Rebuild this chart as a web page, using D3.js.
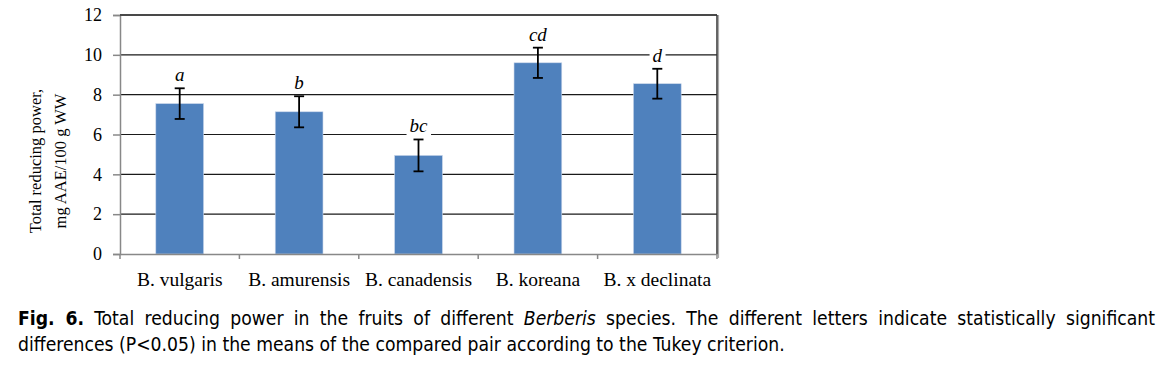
<!DOCTYPE html>
<html>
<head>
<meta charset="utf-8">
<script src="https://cdn.jsdelivr.net/npm/d3@7.9.0/dist/d3.min.js"></script>
<style>
  body { margin: 0; background: #fff; }
  svg { display: block; }
</style>
</head>
<body>
<div id="chart"></div>
<script>
// --- Data ---
const species = ["B. vulgaris", "B. amurensis", "B. canadensis", "B. koreana", "B. x declinata"];
const means = [7.55, 7.14, 4.95, 9.6, 8.55];
const errors = [0.77, 0.78, 0.8, 0.76, 0.75];
const letters = ["a", "b", "bc", "cd", "d"];
const yTicks = [0, 2, 4, 6, 8, 10, 12];

const W = 1171, H = 368;
const PL = 120, PR = 717, PT = 15, PB = 254;
const BAR_COLOR = "#4F81BD";
const SERIF = "'Liberation Serif', 'Times New Roman', serif";

const svg = d3.select("#chart").append("svg").attr("width", W).attr("height", H);

const x = d3.scaleBand().domain(species).range([PL, PR]).paddingInner(0.6).paddingOuter(0.3);
const y = d3.scaleLinear().domain([0, 12]).range([PB, PT]);

// gridlines
svg.append("g")
  .selectAll("line")
  .data(yTicks.filter(d => d > 0))
  .join("line")
  .attr("x1", PL).attr("x2", PR)
  .attr("y1", d => y(d)).attr("y2", d => y(d))
  .attr("stroke", "#1a1a1a").attr("stroke-width", 1.2);

// right border of plot area (dark line with a grey shadow)
svg.append("line")
  .attr("x1", PR + 1.5).attr("x2", PR + 1.5).attr("y1", y(12)).attr("y2", y(0) + 4)
  .attr("stroke", "#aaa").attr("stroke-width", 1.2);
svg.append("line")
  .attr("x1", PR).attr("x2", PR).attr("y1", y(12)).attr("y2", y(0))
  .attr("stroke", "#333").attr("stroke-width", 1.5);

// bars
svg.append("g")
  .selectAll("rect")
  .data(means)
  .join("rect")
  .attr("x", (d, i) => x(species[i]))
  .attr("width", x.bandwidth())
  .attr("y", d => y(d))
  .attr("height", d => y(0) - y(d))
  .attr("fill", BAR_COLOR)
  .attr("stroke", "#c9d6ea").attr("stroke-width", 0.6);

// error bars
const eb = svg.append("g").attr("stroke", "#000").attr("stroke-width", 1.8);
means.forEach((m, i) => {
  const cx = x(species[i]) + x.bandwidth() / 2;
  const hi = y(m + errors[i]), lo = y(m - errors[i]);
  eb.append("line").attr("x1", cx).attr("x2", cx).attr("y1", hi).attr("y2", lo);
  eb.append("line").attr("x1", cx - 5).attr("x2", cx + 5).attr("y1", hi).attr("y2", hi);
  eb.append("line").attr("x1", cx - 5).attr("x2", cx + 5).attr("y1", lo).attr("y2", lo);
});

// significance letters
const lg = svg.append("g");
means.forEach((m, i) => {
  const cx = x(species[i]) + x.bandwidth() / 2;
  const by = y(m + errors[i]) - 7;
  const t = lg.append("text")
    .attr("x", cx).attr("y", by)
    .attr("text-anchor", "middle")
    .attr("font-family", SERIF).attr("font-style", "italic").attr("font-size", 19)
    .text(letters[i]);
  const bb = t.node().getBBox();
  lg.insert("rect", () => t.node())
    .attr("x", bb.x - 3).attr("y", bb.y + 2).attr("width", bb.width + 6).attr("height", bb.height - 3)
    .attr("fill", "#fff");
});

// y axis
const yAxis = svg.append("g")
  .attr("transform", `translate(${PL},0)`)
  .call(d3.axisLeft(y).tickValues(yTicks).tickSize(7).tickPadding(11));
yAxis.select(".domain").attr("stroke", "#888").attr("stroke-width", 1.5);
yAxis.selectAll(".tick line").attr("stroke", "#888").attr("stroke-width", 1.5);
yAxis.selectAll(".tick text").attr("font-family", SERIF).attr("font-size", 18).attr("fill", "#000");
// top border (darker)
svg.append("line")
  .attr("x1", PL).attr("x2", PR).attr("y1", y(12)).attr("y2", y(12))
  .attr("stroke", "#333").attr("stroke-width", 1.5);

// x axis
const xAxis = svg.append("g")
  .attr("transform", `translate(0,${PB})`)
  .call(d3.axisBottom(x).tickSize(0).tickPadding(18));
xAxis.select(".domain").attr("stroke", "#888").attr("stroke-width", 1.5);
xAxis.selectAll(".tick text").attr("font-family", SERIF).attr("font-size", 19.5).attr("fill", "#000");
// category separator ticks
const step = (PR - PL) / species.length;
svg.append("g")
  .selectAll("line")
  .data(d3.range(species.length + 1))
  .join("line")
  .attr("x1", d => PL + d * step).attr("x2", d => PL + d * step)
  .attr("y1", PB).attr("y2", PB + 5)
  .attr("stroke", "#888").attr("stroke-width", 1.5);

// y axis title
const yt = svg.append("text")
  .attr("transform", "translate(0,161) rotate(-90)")
  .attr("text-anchor", "middle")
  .attr("font-family", SERIF).attr("font-size", 16.5);
yt.append("tspan").attr("x", 0).attr("y", 41).text("Total reducing power,");
yt.append("tspan").attr("x", 0).attr("y", 66).text("mg AAE/100 g WW");

// caption (Tahoma-like: condensed sans, size fitted so line 2 ends where it does in the figure)
const CAP_FONT = "'DejaVu Sans Condensed', 'DejaVu Sans', Verdana, sans-serif";
const capLeft = 18, capRight = 1155, line2End = 785;

const line2 = svg.append("text")
  .attr("x", capLeft).attr("y", 351)
  .attr("font-family", CAP_FONT).attr("font-size", 18).attr("fill", "#000")
  .text("differences (P<0.05) in the means of the compared pair according to the Tukey criterion.");
const capSize = 18 * (line2End - capLeft) / line2.node().getComputedTextLength();
line2.attr("font-size", capSize);

const line1 = svg.append("text")
  .attr("x", capLeft).attr("y", 325)
  .attr("font-family", CAP_FONT).attr("font-size", capSize).attr("fill", "#000");
line1.append("tspan").attr("font-weight", "bold").text("Fig. 6.");
line1.append("tspan").text(" Total reducing power in the fruits of different ");
line1.append("tspan").attr("font-style", "italic").text("Berberis");
line1.append("tspan").text(" species. The different letters indicate statistically significant");
const natural = line1.node().getComputedTextLength();
const spaces = (line1.text().match(/ /g) || []).length;
line1.attr("word-spacing", Math.max(0, (capRight - capLeft - natural) / spaces));
</script>
</body>
</html>
